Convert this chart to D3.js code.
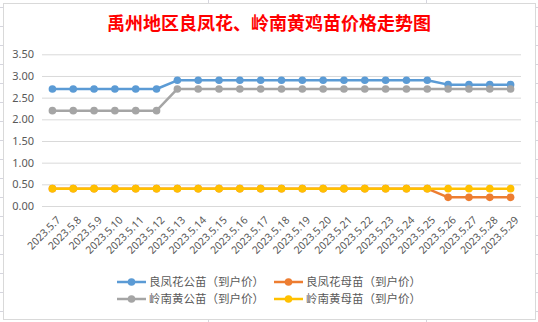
<!DOCTYPE html>
<html>
<head>
<meta charset="utf-8">
<script src="https://cdn.jsdelivr.net/npm/d3@7"></script>
<style>
  body { margin: 0; background: #fff; }
  svg { display: block; }
</style>
</head>
<body>
<script>
let width = 538;
let height = 322;

// data
let dates = ["2023.5.7", "2023.5.8", "2023.5.9", "2023.5.10", "2023.5.11", "2023.5.12",
    "2023.5.13", "2023.5.14", "2023.5.15", "2023.5.16", "2023.5.17", "2023.5.18",
    "2023.5.19", "2023.5.20", "2023.5.21", "2023.5.22", "2023.5.23", "2023.5.24",
    "2023.5.25", "2023.5.26", "2023.5.27", "2023.5.28", "2023.5.29"];
let lfhMale = [2.7, 2.7, 2.7, 2.7, 2.7, 2.7, 2.9, 2.9, 2.9, 2.9, 2.9, 2.9, 2.9, 2.9, 2.9, 2.9, 2.9, 2.9, 2.9, 2.8, 2.8, 2.8, 2.8];
let lfhFemale = [0.4, 0.4, 0.4, 0.4, 0.4, 0.4, 0.4, 0.4, 0.4, 0.4, 0.4, 0.4, 0.4, 0.4, 0.4, 0.4, 0.4, 0.4, 0.4, 0.2, 0.2, 0.2, 0.2];
let lnhMale = [2.2, 2.2, 2.2, 2.2, 2.2, 2.2, 2.7, 2.7, 2.7, 2.7, 2.7, 2.7, 2.7, 2.7, 2.7, 2.7, 2.7, 2.7, 2.7, 2.7, 2.7, 2.7, 2.7];
let lnhFemale = [0.4, 0.4, 0.4, 0.4, 0.4, 0.4, 0.4, 0.4, 0.4, 0.4, 0.4, 0.4, 0.4, 0.4, 0.4, 0.4, 0.4, 0.4, 0.4, 0.4, 0.4, 0.4, 0.4];
let seriesNames = ["良凤花公苗（到户价）", "良凤花母苗（到户价）", "岭南黄公苗（到户价）", "岭南黄母苗（到户价）"];
let yTicks = [0, 0.5, 1, 1.5, 2, 2.5, 3, 3.5];

let colors = ["#5b9bd5", "#ed7d31", "#a5a5a5", "#ffc000"];
let series = [lfhMale, lfhFemale, lnhMale, lnhFemale].map(function (v, i) {
    return { name: seriesNames[i], values: v, color: colors[i] };
});

let svg = d3.select("body").append("svg")
    .attr("width", width)
    .attr("height", height);

// spreadsheet cells peeking out behind the chart
let sheet = svg.append("g").attr("stroke", "#d5d5de").attr("stroke-width", 1);
d3.range(7, height, 19).forEach(function (y) {
    sheet.append("line").attr("x1", 0).attr("x2", width).attr("y1", y + 0.5).attr("y2", y + 0.5);
});
[208, 426].forEach(function (x) {
    sheet.append("line").attr("x1", x + 0.5).attr("x2", x + 0.5).attr("y1", 0).attr("y2", height);
});

// chart area
svg.append("rect")
    .attr("x", 3.5).attr("y", 3.5)
    .attr("width", 532).attr("height", 316)
    .attr("fill", "#fff")
    .attr("stroke", "#d9d9d9");

svg.append("text")
    .attr("x", 269).attr("y", 30)
    .attr("text-anchor", "middle")
    .attr("fill", "#ff0000")
    .attr("font-family", "Noto Sans CJK SC")
    .attr("font-weight", "bold")
    .attr("font-size", 18)
    .text("禹州地区良凤花、岭南黄鸡苗价格走势图");

let x = d3.scaleBand()
    .domain(dates)
    .range([42, 521]);

let y = d3.scaleLinear()
    .domain([0, 3.5])
    .range([206, 54.3]);

// y gridlines + labels
let yAxis = svg.append("g")
    .attr("transform", "translate(42,0)")
    .call(d3.axisLeft(y).tickValues(yTicks).tickSize(-479).tickFormat(d3.format(".2f")).tickPadding(8));
yAxis.select(".domain").remove();
yAxis.selectAll(".tick line").attr("stroke", "#d9d9d9");
yAxis.selectAll(".tick text")
    .attr("fill", "#595959")
    .attr("font-family", "Noto Sans")
    .attr("font-size", 11);

// x labels, rotated
let xAxis = svg.append("g")
    .attr("transform", "translate(0,206)")
    .call(d3.axisBottom(x).tickSize(0));
xAxis.select(".domain").remove();
xAxis.selectAll(".tick text")
    .attr("fill", "#595959")
    .attr("font-family", "Noto Sans")
    .attr("font-size", 10.5)
    .attr("text-anchor", "end")
    .attr("dy", "0.35em")
    .attr("transform", "translate(4,10) rotate(-45)");

let line = d3.line()
    .x(function (d, i) { return x(dates[i]) + x.bandwidth() / 2; })
    .y(function (d) { return y(d); });

series.forEach(function (s) {
    let g = svg.append("g");
    g.append("path")
        .attr("d", line(s.values))
        .attr("fill", "none")
        .attr("stroke", s.color)
        .attr("stroke-width", 2.5)
        .attr("stroke-linejoin", "round");
    g.selectAll("circle")
        .data(s.values)
        .enter()
        .append("circle")
        .attr("cx", function (d, i) { return x(dates[i]) + x.bandwidth() / 2; })
        .attr("cy", function (d) { return y(d); })
        .attr("r", 3.8)
        .attr("fill", s.color);
});

// Legend
let legend = svg.append("g");
series.forEach(function (s, i) {
    let lx = i % 2 === 0 ? 117 : 274;
    let ly = i < 2 ? 282 : 299;
    let item = legend.append("g").attr("transform", "translate(" + lx + "," + ly + ")");
    item.append("line")
        .attr("x1", 0).attr("x2", 29)
        .attr("stroke", s.color)
        .attr("stroke-width", 2.5);
    item.append("circle")
        .attr("cx", 14.5).attr("r", 3.8)
        .attr("fill", s.color);
    item.append("text")
        .attr("x", 32)
        .attr("dy", "0.35em")
        .attr("fill", "#595959")
        .attr("font-family", "Noto Sans CJK SC")
        .attr("font-size", 11.5)
        .text(s.name);
});
</script>
</body>
</html>
